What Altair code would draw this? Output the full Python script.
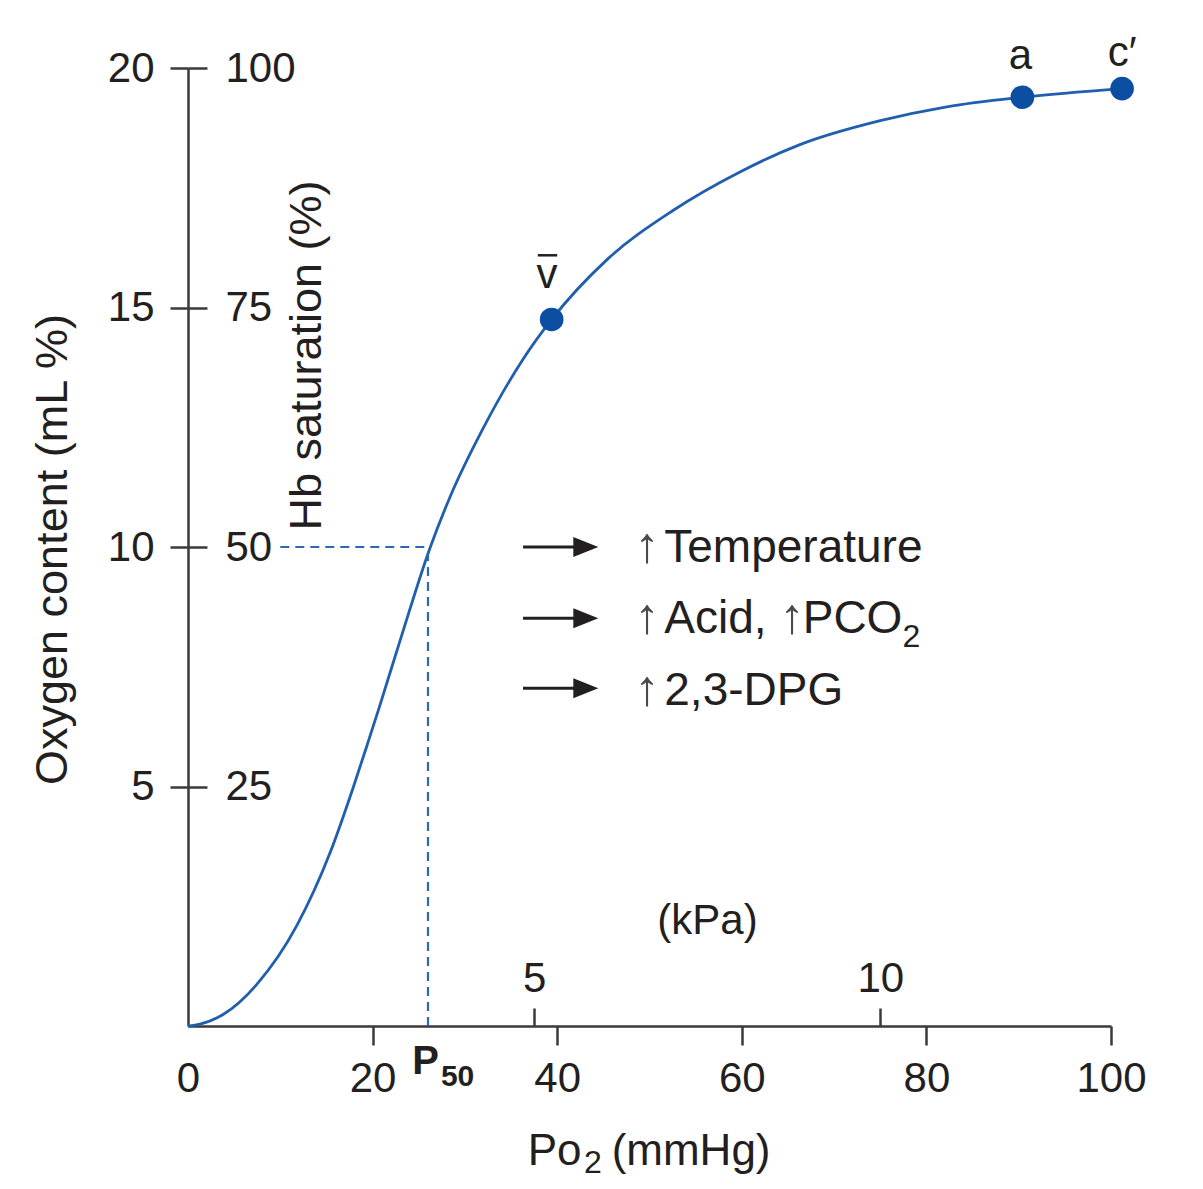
import altair as alt
import pandas as pd

# ---------------- data ----------------
# Oxygen dissociation curve: Po2 (mmHg) -> oxygen content (mL %)
po2_mmhg = [0, 1.3, 3.8, 7.5, 11.8, 15.4, 17.9, 19.5, 20.8, 23.0, 26.2, 28.4,
            31.9, 36.3, 39.4, 45.4, 52.5, 59.8, 66.3, 75.0, 82.2, 90.4, 101.2]
o2_content = [0, 0.04, 0.24, 0.88, 2.10, 3.62, 4.98, 5.92, 6.70, 8.06, 9.97, 11.05,
              12.45, 13.92, 14.75, 16.00, 17.02, 17.83, 18.40, 18.90, 19.19, 19.39, 19.57]

# marked points: mixed venous, arterial, end-capillary
point_names = ["v", "a", "c\u2032"]
point_po2 = [39.4, 90.4, 101.2]
point_content = [14.75, 19.39, 19.57]

# P50 construction
p50_mmhg = 26
p50_content = 10
dash_from_mmhg = 10

# axis tick values
content_ticks = [5, 10, 15, 20]
saturation_ticks = [25, 50, 75, 100]
mmhg_ticks = [0, 20, 40, 60, 80, 100]
kpa_ticks = [5, 10]
MMHG_PER_KPA = 7.5

# ---------------- annotation placement (data units) ----------------
lab_x = [38.9, 90.2, 101.2]
lab_y = [15.40, 19.98, 20.05]
vbar_x = [37.9]
vbar_x2 = [40.0]
vbar_y = [16.09]

arrow_y = [10.0, 8.51, 7.05]
arrow_x0 = 36.3
arrow_x1 = 42.6
arrow_head_x = 43.1

up_x = [48.4, 48.4, 64.1, 48.4]
up_y = [9.68, 8.20, 8.20, 6.70]
ann_text = ["Temperature", "Acid,", "PCO", "2,3-DPG"]
ann_x = [51.6, 51.6, 66.6, 51.6]
ann_y = [9.68, 8.20, 8.20, 6.70]
sub_text = ["2"]
sub_x = [77.4]
sub_y = [7.91]

title_text = ["Po", "(mmHg)"]
title_x = [36.8, 45.9]
title_y = [-2.90, -2.90]
title_sub_text = ["2"]
title_sub_x = [42.9]
title_sub_y = [-3.07]

p50_text = ["P"]
p50_x = [24.3]
p50_y = [-1.0]
p50_sub_text = ["50"]
p50_sub_x = [27.4]
p50_sub_y = [-1.25]

# ---------------- styling ----------------
FONT = "Liberation Sans"
INK = "#231f20"
AX = "#3a3a3a"
BLUE = "#1f5fae"
DASH = "#2a68b8"
DOT = "#0b4ea2"
W, H = 923, 958

x_axis = alt.Axis(values=mmhg_ticks, tickSize=19, tickWidth=2.5, tickColor=AX,
                  tickOpacity={"condition": {"test": "datum.value === 0", "value": 0}, "value": 1},
                  domainColor=AX, domainWidth=2.5, grid=False, labelFontSize=42, labelFont=FONT,
                  labelColor=INK, labelPadding=13, labelFlush=False, labelOverlap=False, title=None)
y_axis = alt.Axis(values=content_ticks, tickSize=18, tickWidth=2.5, tickColor=AX,
                  domainColor=AX, domainWidth=2.5, grid=False, labelFontSize=42, labelFont=FONT,
                  labelColor=INK, labelPadding=16, labelFlush=False, labelOverlap=False,
                  title="Oxygen content (mL %)", titleFont=FONT, titleFontSize=45,
                  titleFontWeight="normal", titleColor=INK, titleAngle=270, titleX=-122, titleY=481,
                  titleAlign="center", titleBaseline="alphabetic")
sat_axis = alt.Axis(orient="right", offset=-W, values=saturation_ticks, tickSize=19, tickWidth=2.5,
                    tickColor=AX, domain=False, grid=False, labelFontSize=42, labelFont=FONT,
                    labelColor=INK, labelPadding=18, labelFlush=False, labelOverlap=False,
                    title="Hb saturation (%)", titleFont=FONT, titleFontSize=45, titleFontWeight="normal",
                    titleColor=INK, titleAngle=270, titleX=132, titleY=287, titleAlign="center",
                    titleBaseline="alphabetic")
kpa_axis = alt.Axis(orient="top", offset=-H, values=kpa_ticks, tickSize=18, tickWidth=2.5,
                    tickColor=AX, domain=False, grid=False, labelFontSize=42, labelFont=FONT,
                    labelColor=INK, labelPadding=8, labelFlush=False, labelOverlap=False,
                    title="(kPa)", titleFont=FONT, titleFontSize=42, titleFontWeight="normal",
                    titleColor=INK, titleX=519, titleY=-93, titleAlign="center",
                    titleBaseline="alphabetic")

x_scale = alt.Scale(domain=[0, 100], nice=False, zero=False)
y_scale = alt.Scale(domain=[0, 20], nice=False, zero=False)
X = alt.X("x:Q", scale=x_scale, axis=x_axis)
Y = alt.Y("y:Q", scale=y_scale, axis=y_axis)


def df(**cols):
    return pd.DataFrame(cols)


def text_layer(texts, xs, ys, size, weight="normal", align="left", color=INK, font=FONT):
    return alt.Chart(df(x=xs, y=ys, t=texts)).mark_text(
        align=align, baseline="alphabetic", font=font, fontSize=size, fontWeight=weight,
        color=color, clip=False).encode(X, Y, text="t:N")


curve = alt.Chart(df(x=po2_mmhg, y=o2_content)).mark_line(
    color=BLUE, strokeWidth=2.8, interpolate="monotone", clip=False).encode(X, Y)

h_dash = alt.Chart(df(x=[dash_from_mmhg], x2=[p50_mmhg], y=[p50_content])).mark_rule(
    color=DASH, strokeWidth=2.2, strokeDash=[9, 6]).encode(X, alt.X2("x2:Q"), Y)
v_dash = alt.Chart(df(x=[p50_mmhg], y=[0], y2=[p50_content])).mark_rule(
    color=DASH, strokeWidth=2.2, strokeDash=[9, 6]).encode(X, Y, alt.Y2("y2:Q"))

dots = alt.Chart(df(x=point_po2, y=point_content)).mark_circle(
    size=560, color=DOT, opacity=1, clip=False).encode(X, Y)

point_labels = text_layer(point_names, lab_x, lab_y, 42, align="center")
vbar = alt.Chart(df(x=vbar_x, x2=vbar_x2, y=vbar_y)).mark_rule(
    color=INK, strokeWidth=2.5).encode(X, alt.X2("x2:Q"), Y)

arrow_lines = alt.Chart(df(x=[arrow_x0] * 3, x2=[arrow_x1] * 3, y=arrow_y)).mark_rule(
    color=INK, strokeWidth=3).encode(X, alt.X2("x2:Q"), Y)
arrow_heads = alt.Chart(df(x=[arrow_head_x] * 3, y=arrow_y)).mark_point(
    shape="M-1,-0.8L1,0L-1,0.8Z", filled=True, size=625, color=INK, opacity=1).encode(X, Y)

ups = text_layer(["\u2191"] * 4, up_x, up_y, 50, color="#4a4a4a")
ann = text_layer(ann_text, ann_x, ann_y, 46)
ann_sub = text_layer(sub_text, sub_x, sub_y, 32)
x_title = text_layer(title_text, title_x, title_y, 44)
x_title_sub = text_layer(title_sub_text, title_sub_x, title_sub_y, 32)
p50_lab = text_layer(p50_text, p50_x, p50_y, 40, weight="bold")
p50_sub = text_layer(p50_sub_text, p50_sub_x, p50_sub_y, 30, weight="bold")

main = alt.layer(curve, h_dash, v_dash, dots, point_labels, vbar, arrow_lines, arrow_heads,
                 ups, ann, ann_sub, x_title, x_title_sub, p50_lab, p50_sub)

sat_layer = alt.Chart(df(sat=saturation_ticks)).mark_point(opacity=0).encode(
    y=alt.Y("sat:Q", scale=alt.Scale(domain=[0, 100], nice=False), axis=sat_axis))
kpa_layer = alt.Chart(df(kpa=kpa_ticks)).mark_point(opacity=0).encode(
    x=alt.X("kpa:Q", scale=alt.Scale(domain=[0, 100 / MMHG_PER_KPA], nice=False, zero=False),
            axis=kpa_axis))

chart = alt.layer(main, sat_layer, kpa_layer).resolve_scale(
    x="independent", y="independent"
).properties(
    width=W, height=H,
    autosize=alt.AutoSizeParams(type="none"),
    padding={"left": 180, "top": 60, "right": 84, "bottom": 163},
    background="white",
).configure_view(stroke=None)

chart.save("out.html", embed_options={"renderer": "svg", "actions": False})
